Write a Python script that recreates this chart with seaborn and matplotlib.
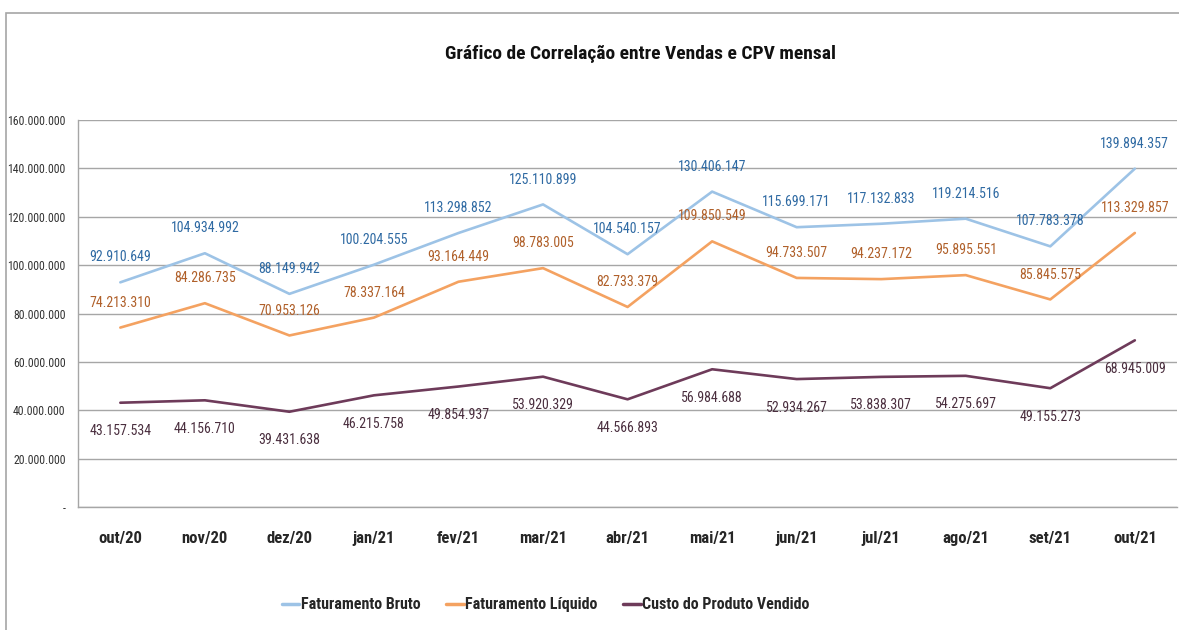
import matplotlib
matplotlib.use("Agg")
import matplotlib.pyplot as plt
import matplotlib.font_manager as fm
from matplotlib.ticker import FuncFormatter, FixedLocator
from matplotlib.lines import Line2D
import seaborn as sns
import pandas as pd
import numpy as np

months = ["out/20", "nov/20", "dez/20", "jan/21", "fev/21", "mar/21", "abr/21",
          "mai/21", "jun/21", "jul/21", "ago/21", "set/21", "out/21"]
bruto = [92910649, 104934992, 88149942, 100204555, 113298852, 125110899, 104540157,
         130406147, 115699171, 117132833, 119214516, 107783378, 139894357]
liquido = [74213310, 84286735, 70953126, 78337164, 93164449, 98783005, 82733379,
           109850549, 94733507, 94237172, 95895551, 85845575, 113329857]
cpv = [43157534, 44156710, 39431638, 46215758, 49854937, 53920329, 44566893,
       56984688, 52934267, 53838307, 54275697, 49155273, 68945009]
series_names = ["Faturamento Bruto", "Faturamento Líquido", "Custo do Produto Vendido"]
yticks = [0, 20e6, 40e6, 60e6, 80e6, 100e6, 120e6, 140e6, 160e6]

sns.set_theme(style="white")
names = {f.name for f in fm.fontManager.ttflist}
fam = next((n for n in ["Roboto Condensed", "Open Sans Condensed", "Asap Condensed",
                         "Carlito", "Roboto"] if n in names), "DejaVu Sans")
plt.rcParams["font.family"] = [fam, "DejaVu Sans"]

line_colors = ["#9DC3E6", "#F4A261", "#6E3B5A"]
label_colors = ["#2F6AA3", "#B0602A", "#4A2E3E"]

df = pd.DataFrame({
    "x": list(range(len(months))) * 3,
    "valor": bruto + liquido + cpv,
    "serie": [series_names[0]] * 13 + [series_names[1]] * 13 + [series_names[2]] * 13,
})

fig = plt.figure(figsize=(11.79, 6.30), dpi=100)
fig.patches.append(plt.Rectangle((0.005, -0.01), 1.2, 0.99, transform=fig.transFigure,
                                 fill=False, edgecolor="#A6A6A6", linewidth=1.2))
ax = fig.add_axes([0.0662, 0.195, 0.9322, 0.6145])

sns.lineplot(data=df, x="x", y="valor", hue="serie", palette=line_colors,
             linewidth=1.9, ax=ax, legend=False)

def fmt(v):
    return f"{int(round(v)):,}".replace(",", ".")

for vals, col, off in [(bruto, label_colors[0], 10.3e6),
                       (liquido, label_colors[1], 10.3e6),
                       (cpv, label_colors[2], -11.8e6)]:
    for i, v in enumerate(vals):
        ax.text(i, v + off, fmt(v), color=col, fontsize=10, ha="center", va="center")

ax.set_xlim(-0.5, len(months) - 0.5)
ax.set_ylim(0, 160e6)
ax.set_yticks(yticks)
ax.yaxis.set_major_formatter(FuncFormatter(lambda v, p: "-" if v == 0 else fmt(v)))
ax.set_xticks(range(len(months)))
ax.set_xticklabels(months, fontsize=12, fontweight="bold")
ax.xaxis.set_minor_locator(FixedLocator(np.arange(-0.5, len(months), 1)))
ax.tick_params(axis="x", which="major", length=0, pad=17)
ax.tick_params(axis="x", which="minor", length=6, color="#A6A6A6", width=1, direction="out")
ax.tick_params(axis="y", length=4, color="#A6A6A6", width=1, labelsize=8.5, pad=5)
for lab in ax.get_yticklabels():
    lab.set_color("#333333")
ax.grid(axis="y", color="#A6A6A6", linewidth=1)
ax.set_axisbelow(True)
for s in ["top", "right"]:
    ax.spines[s].set_visible(False)
for s in ["left", "bottom"]:
    ax.spines[s].set_color("#A6A6A6")
    ax.spines[s].set_linewidth(1)
ax.set_xlabel("")
ax.set_ylabel("")

fig.text(0.543, 0.915, "Gráfico de Correlação entre Vendas e CPV mensal",
         ha="center", va="center", fontsize=14, fontweight="bold", color="#111111")

handles = [Line2D([0], [0], color=c, linewidth=2.5) for c in line_colors]
leg = fig.legend(handles, series_names, loc="center", bbox_to_anchor=(0.463, 0.04),
                 ncol=3, frameon=False, handlelength=1.1, handletextpad=0.1,
                 columnspacing=1.6, prop={"size": 11.5, "weight": "bold", "family": [fam, "DejaVu Sans"]})

fig.savefig("out.png", dpi=100)
